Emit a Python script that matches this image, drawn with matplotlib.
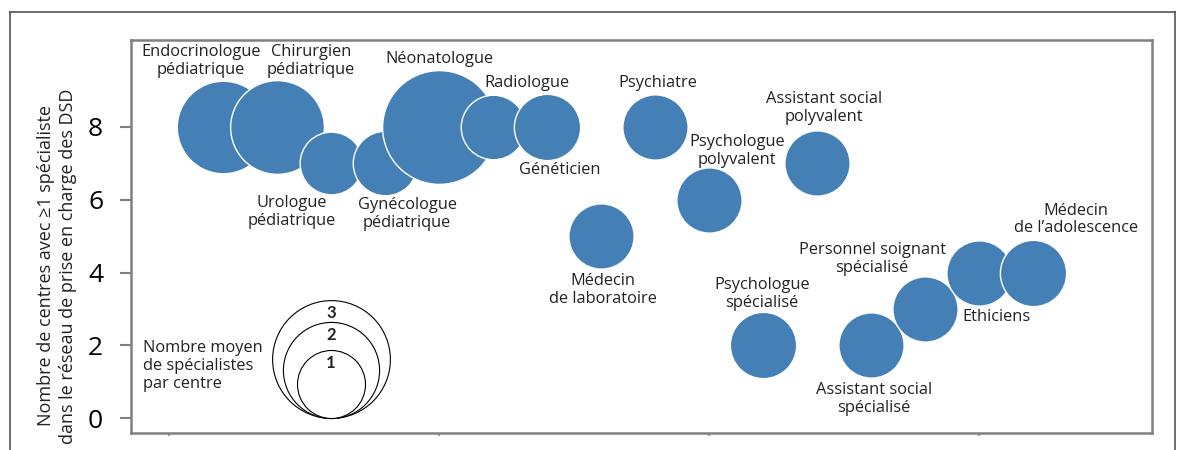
"""Bubble chart: DSD network specialists per centre."""

import matplotlib

matplotlib.use("Agg")
import matplotlib.pyplot as plt
import numpy as np
from matplotlib.lines import Line2D
from matplotlib.transforms import ScaledTranslation

plt.rcParams["font.family"] = ["Open Sans", "DejaVu Sans"]

# Data
specialists = [
    "Endocrinologue\npédiatrique",
    "Chirurgien\npédiatrique",
    "Urologue\npédiatrique",
    "Gynécologue\npédiatrique",
    "Néonatologue",
    "Radiologue",
    "Généticien",
    "Médecin\nde laboratoire",
    "Psychiatre",
    "Psychologue\npolyvalent",
    "Psychologue\nspécialisé",
    "Assistant social\npolyvalent",
    "Assistant social\nspécialisé",
    "Personnel soignant\nspécialisé",
    "Ethiciens",
    "Médecin\nde l\u2019adolescence",
]
n_centres = [8, 8, 7, 7, 8, 8, 8, 5, 8, 6, 2, 7, 2, 3, 4, 4]
mean_specialists = [1.85, 1.9, 0.85, 0.9, 2.8, 0.9, 0.95, 0.92, 0.92, 0.92, 0.95, 0.92, 0.92, 0.92, 0.92, 0.95]
legend_values = [3, 2, 1]

# Label offsets from bubble centre, in pixels
label_offsets = [
    (-22, 66), (34, 66), (-39, -49), (22, -51), (0, 68), (34, 44), (13, -43),
    (2, -54), (3, 44), (28, 49), (-1, 51), (7, 55), (3, -54), (-53, 50),
    (17, -44), (43, 53),
]

DPI = 100
PX_PER_UNIT = 34  # bubble radius (px) for a mean of 1 specialist
BLUE = "#4480b5"
SPINE = "#808080"
TEXT = "#222222"
LABEL_SIZE = 11.8


def radius_px(value):
    return PX_PER_UNIT * np.sqrt(value)


def marker_size(value):
    # scatter s is (diameter in points) ** 2
    return (2 * radius_px(value) * 72 / DPI) ** 2


fig = plt.figure(figsize=(11.79, 4.5), dpi=DPI)
ax = fig.add_axes([131 / 1179, 1 - 433 / 450, (1152 - 131) / 1179, (433 - 40) / 450])

x = np.arange(1, len(specialists) + 1)
for xi, yi, v in zip(x, n_centres, mean_specialists):
    ax.scatter(xi, yi, s=marker_size(v), color=BLUE, edgecolors="white", linewidths=1, zorder=3)

for xi, yi, label, (dx, dy) in zip(x, n_centres, specialists, label_offsets):
    ax.annotate(label, (xi, yi), xytext=(dx, dy), textcoords="offset pixels",
                ha="center", va="center", fontsize=LABEL_SIZE, color=TEXT,
                linespacing=1.15, zorder=4)

# Size legend: circles sharing the same bottom point
legend_x, legend_y = 3, 0
for v in legend_values:
    r = radius_px(v)
    shift = ax.transData + ScaledTranslation(0, r / DPI, fig.dpi_scale_trans)
    ax.plot(legend_x, legend_y, marker="o", markersize=2 * r * 72 / DPI,
            markerfacecolor="white", markeredgecolor="black", markeredgewidth=0.8,
            transform=shift, zorder=2)
    ax.annotate(str(v), (legend_x, legend_y), xytext=(0, 2 * r - 13), textcoords="offset pixels",
                ha="center", va="center", fontsize=12, fontweight="bold", color=TEXT,
                family=["Lato", "DejaVu Sans"])
ax.annotate("Nombre moyen\nde spécialistes\npar centre", (legend_x, legend_y), xytext=(-188, 52),
            textcoords="offset pixels", ha="left", va="center", fontsize=LABEL_SIZE,
            linespacing=1.15, color=TEXT)

ax.set_xlim(-0.704, 18.2)
ax.set_ylim(-0.41, 10.39)
ax.set_xticks([0, 5, 10, 15])
ax.set_xticklabels([])
ax.set_yticks([0, 2, 4, 6, 8])
ax.tick_params(axis="y", length=8, width=1.5, color=SPINE, labelsize=19, pad=12)
ax.tick_params(axis="x", length=2, width=1.2, color=SPINE)
for spine in ax.spines.values():
    spine.set_color(SPINE)
    spine.set_linewidth(1.8)

fig.text(57 / 1179, 1 - 266 / 450,
         "Nombre de centres avec \u22651 spécialiste\ndans le réseau de prise en charge des DSD",
         rotation=90, ha="center", va="center", fontsize=13, linespacing=1.25, color=TEXT)

# Outer frame (open at the bottom)
frame = dict(color="#555555", linewidth=1.2, transform=fig.transFigure)
top = 1 - 12 / 450
fig.add_artist(Line2D([10 / 1179, 10 / 1179], [0, top], **frame))
fig.add_artist(Line2D([10 / 1179, 1175 / 1179], [top, top], **frame))
fig.add_artist(Line2D([1175 / 1179, 1175 / 1179], [0, top], **frame))

fig.savefig("out.png", dpi=DPI)
